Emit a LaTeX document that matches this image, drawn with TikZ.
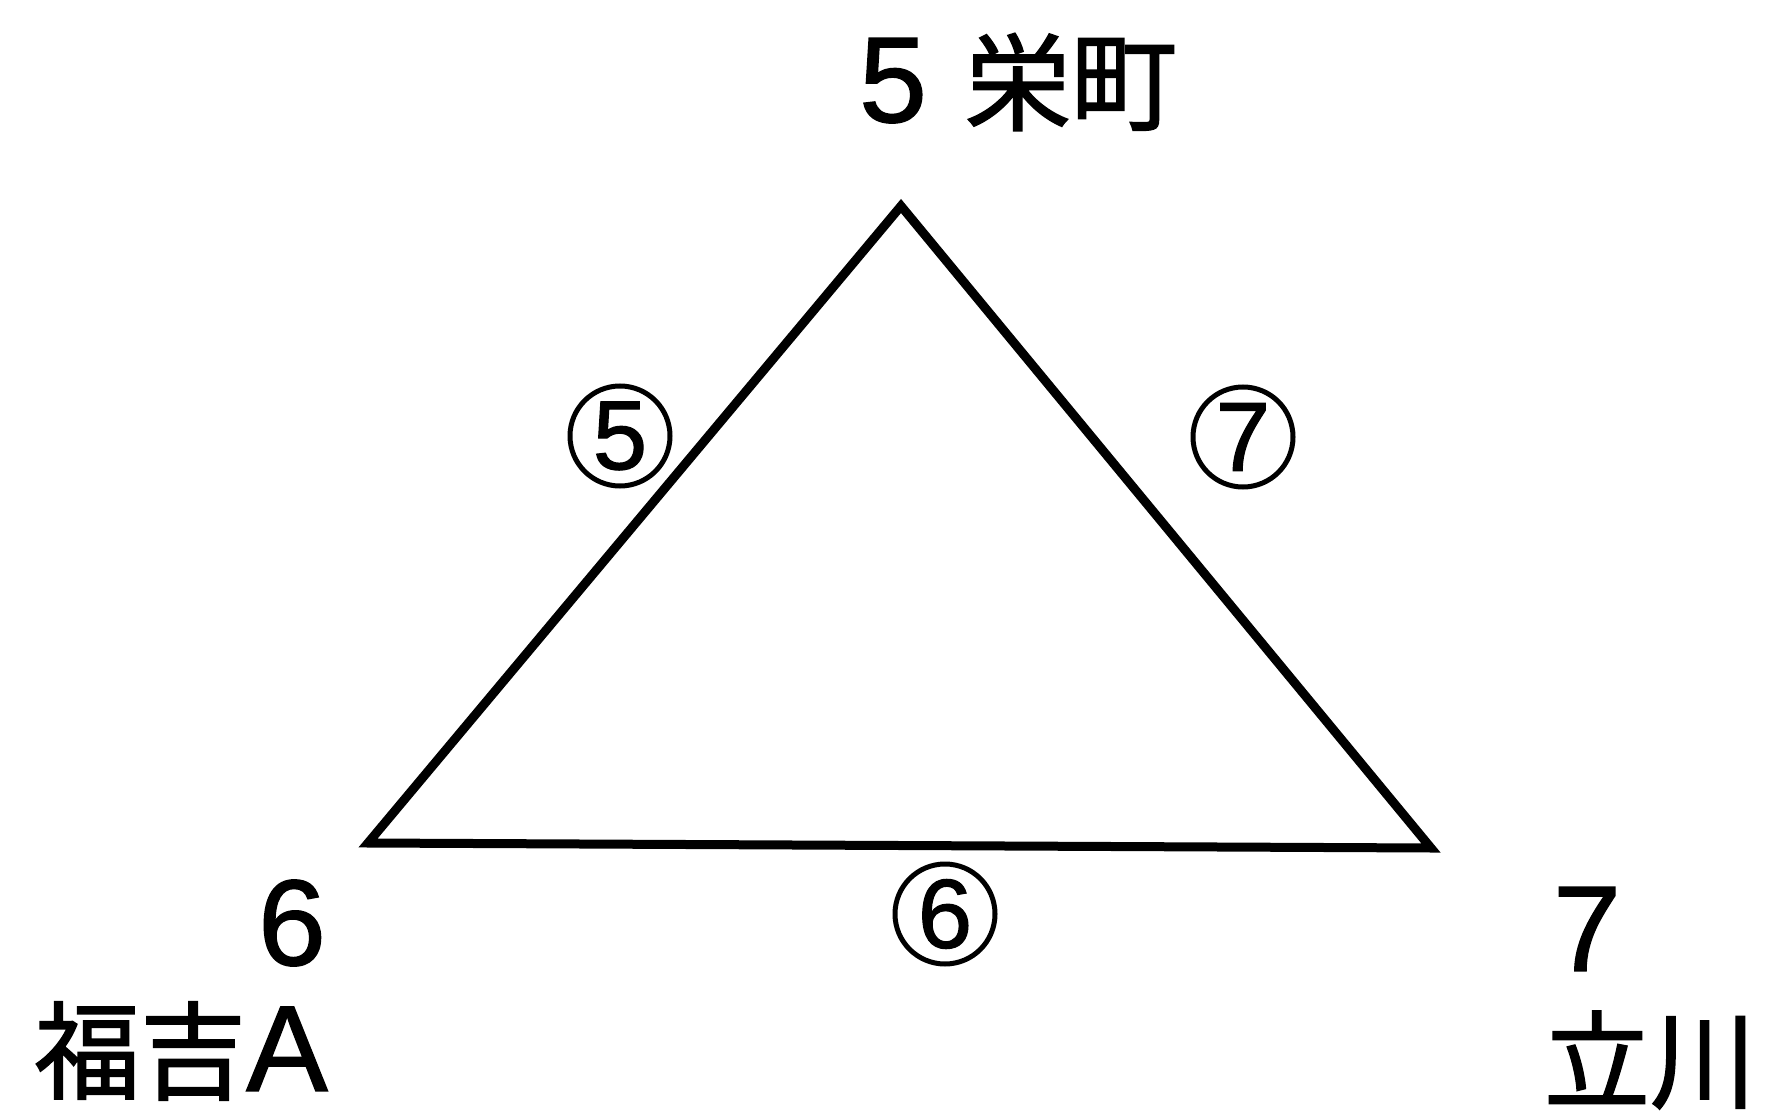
\documentclass[tikz,border=0pt]{standalone}
\usepackage{fontspec}
\setmainfont{Liberation Sans}[FakeBold=1.2]
\newfontfamily\jpfont{Noto Sans CJK JP}[FakeBold=1.5]
\begin{document}
\begin{tikzpicture}[
  x=1pt,y=-1pt,
  lbl/.style={inner sep=0pt,font=\fontsize{122}{122}\selectfont},
  jp/.style={inner sep=0pt,font=\fontsize{106}{110}\selectfont\jpfont},
  num/.style={circle,draw,line width=5pt,minimum size=100pt,inner sep=0pt,
    font=\fontsize{98}{98}\selectfont},
]
  \useasboundingbox (0,0) rectangle (1792,1118);

  % corners of the triangle
  \coordinate (Sk) at (901,206);
  \coordinate (Fk) at (368,843);
  \coordinate (Tk) at (1431,848);

  \draw[line width=9pt,line join=miter] (Sk) -- (Fk) -- (Tk) -- cycle;

  % station labels
  \node[lbl] (Sn) at (1018,82) {5\hspace{38pt}{\jpfont\fontsize{106}{110}\selectfont 栄町}};
  \node[lbl] (Fn) at (292,923) {6};
  \node[jp]  (Fj) at (181,1051) {福吉{\rmfamily\fontsize{122}{122}\selectfont A}};
  \node[lbl] (Tn) at (1587,929) {7};
  \node[jp]  (Tj) at (1650,1060) {立川};

  % edge numbers
  \node[num] (e5) at (620,436) {5};
  \node[num] (e7) at (1243,437) {7};
  \node[num] (e6) at (945,914) {6};
\end{tikzpicture}
\end{document}
